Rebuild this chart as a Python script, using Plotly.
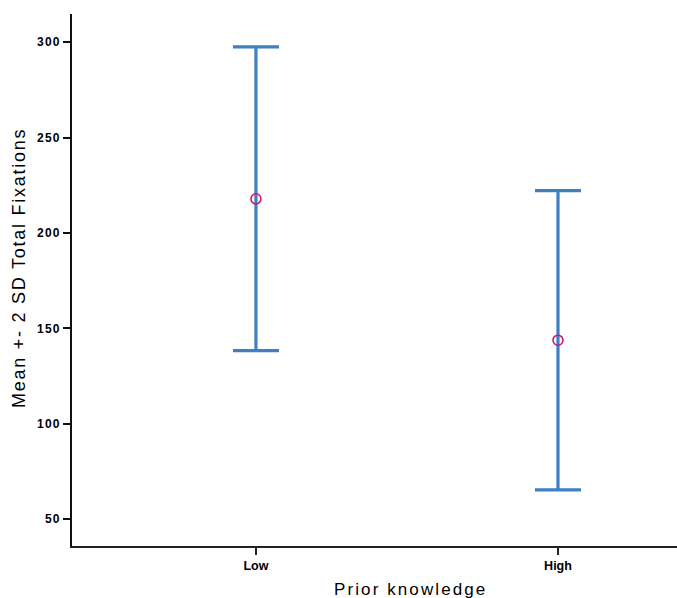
import plotly.graph_objects as go

categories = ["Low", "High"]
means = [217.9, 143.8]
two_sd = [79.6, 78.4]
ytick_vals = [50, 100, 150, 200, 250, 300]
ytick_text = [str(v) for v in ytick_vals]

W, H = 677, 598
L, R, T, B = 72, 0, 14, 52

fig = go.Figure()
fig.add_trace(go.Scatter(
    x=categories, y=means, mode="markers",
    marker=dict(symbol="circle-open", size=10, color="#D1156C",
                line=dict(width=1.6, color="#D1156C")),
    error_y=dict(type="data", array=two_sd, symmetric=True,
                 color="#3F7FC3", thickness=3.2, width=23),
    showlegend=False, hoverinfo="skip",
))

font_family = "Liberation Sans, Arial, Helvetica, sans-serif"

fig.update_layout(
    width=W, height=H,
    margin=dict(l=L, r=R, t=T, b=B, pad=0),
    paper_bgcolor="white", plot_bgcolor="white",
    font=dict(family=font_family, color="black"),
    xaxis=dict(
        type="category", range=[-0.609, 1.394],
        showline=True, linecolor="#222", linewidth=1.5,
        ticks="outside", ticklen=7, tickwidth=1.5, tickcolor="#222",
        showgrid=False, zeroline=False,
        tickfont=dict(size=12.5, family=font_family, weight="bold"),
        fixedrange=True,
    ),
    yaxis=dict(
        range=[36.0, 314.7],
        tickmode="array", tickvals=ytick_vals,
        ticktext=['<span style="letter-spacing:1.3px">%s</span>' % t for t in ytick_text],
        showline=True, linecolor="#111", linewidth=1.5,
        ticks="outside", ticklen=7, tickwidth=1.5, tickcolor="#111",
        showgrid=False, zeroline=False,
        tickfont=dict(size=12, family=font_family, weight="bold"),
        fixedrange=True,
    ),
    annotations=[
        dict(text='<span style="letter-spacing:2.1px">Prior knowledge</span>',
             xref="paper", yref="paper", x=(410 - L) / (W - L - R), y=-(589 - (H - B)) / (H - T - B),
             xanchor="center", yanchor="middle", showarrow=False,
             font=dict(size=17, family=font_family, color="black")),
        dict(text='<span style="letter-spacing:1.75px">Mean +- 2 SD Total Fixations</span>',
             xref="paper", yref="paper", x=(19 - L) / (W - L - R), y=((H - B) - 268) / (H - T - B),
             xanchor="center", yanchor="middle", showarrow=False, textangle=-90,
             font=dict(size=18, family=font_family, color="black")),
    ],
)

fig.write_html("out.html")
